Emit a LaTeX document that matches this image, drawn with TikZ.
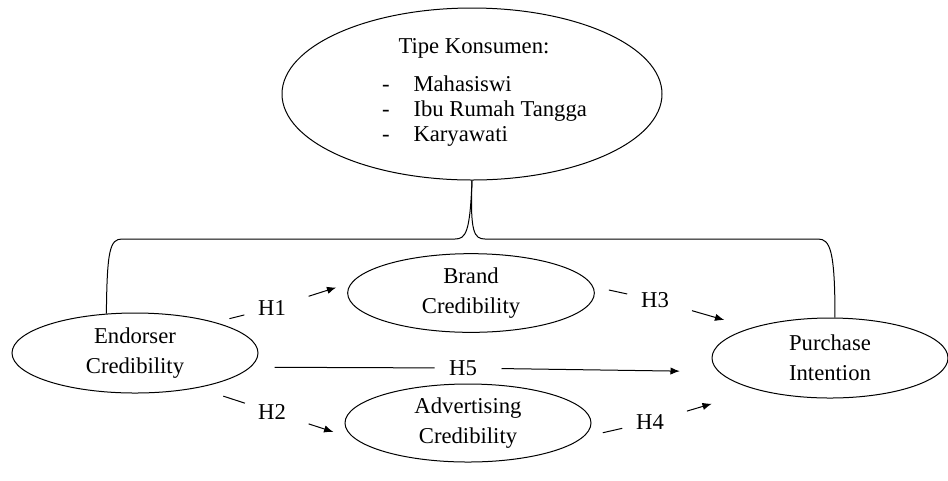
\documentclass[tikz,border=0pt]{standalone}
\usepackage{fontspec}
\setmainfont{Liberation Serif}
\newfontfamily\timesfont{Liberation Serif}
\usetikzlibrary{shapes.geometric,arrows.meta}

\tikzset{every picture/.style={line width=0.75pt}}
\tikzset{
  txt/.style={font=\timesfont\fontsize{17}{20}\selectfont, inner sep=0pt},
  var/.style={draw, ellipse, inner sep=0pt, align=center, font=\timesfont\fontsize{17}{22.5}\selectfont},
  hyp/.style={circle, minimum size=42pt, inner sep=0pt, font=\timesfont\fontsize{17}{20}\selectfont},
  arr/.style={-{Latex[length=7pt,width=5.5pt]}}
}

\begin{document}
\begin{tikzpicture}[x=0.75pt,y=0.75pt,yscale=-1,xscale=1]
	\useasboundingbox (0,0) rectangle (948,480);

	%Ellipse: tipe konsumen
	\node [var, minimum width=285pt, minimum height=129pt] (konsumen) at (472,94) {};
	\node [txt, anchor=base west] (tipe) at (398,53) {Tipe Konsumen:};
	\foreach \name/\item/\y in {mhs/Mahasiswi/91, irt/Ibu Rumah Tangga/116, kry/Karyawati/141} {
		\node [txt, anchor=base] (\name-dash) at (386,\y) {-};
		\node [txt, anchor=base west] (\name) at (413,\y) {\item};
	}

	%Ellipses: variabel
	\node [var, minimum width=184.5pt, minimum height=60pt] (endorser) at (135,353) {Endorser\\Credibility};
	\node [var, minimum width=185pt, minimum height=59pt] (brand) at (471,293) {Brand\\Credibility};
	\node [var, minimum width=184.5pt, minimum height=58.5pt] (advert) at (468,423) {Advertising\\Credibility};
	\node [var, minimum width=177pt, minimum height=60pt] (purchase) at (830,358) {Purchase\\Intention};

	%Brace
	\draw (konsumen.south) .. controls (470,232) and (466,239) .. (455,239) -- (122,239) .. controls (110,239) and (107,250) .. (endorser.126);
	\draw (konsumen.south) .. controls (470,232) and (474,239) .. (485,239) -- (818,239) .. controls (830,239) and (835,250) .. (purchase.83);

	% Hipotesis
	\node [hyp] (h1) at (272,308) {H1};
	\node [hyp] (h2) at (272,412) {H2};
	\node [hyp] (h3) at (655,300) {H3};
	\node [hyp] (h4) at (650,422) {H4};
	\node [hyp] (h5) at (463,368) {H5};

	\draw [shorten <=11pt] (endorser.21) -- (h1);
	\draw [arr, shorten <=7.5pt, shorten >=12pt] (h1) -- (brand.175);
	\draw [shorten <=20pt] (endorser.-29) -- (h2);
	\draw [arr, shorten <=7.5pt, shorten >=17pt] (h2) -- (advert.188);
	\draw [shorten <=12pt] (brand.3) -- (h3);
	\draw [arr, shorten <=7.5pt, shorten >=21pt] (h3) -- (purchase.159);
	\draw [shorten <=15pt] (advert.-7) -- (h4);
	\draw [arr, shorten <=7.5pt, shorten >=36pt] (h4) -- (purchase.204);
	\draw [shorten <=18pt] (endorser.-7) -- (h5);
	\draw [arr, shorten <=7.5pt, shorten >=29pt] (h5) -- (purchase.187);

\end{tikzpicture}
\end{document}
